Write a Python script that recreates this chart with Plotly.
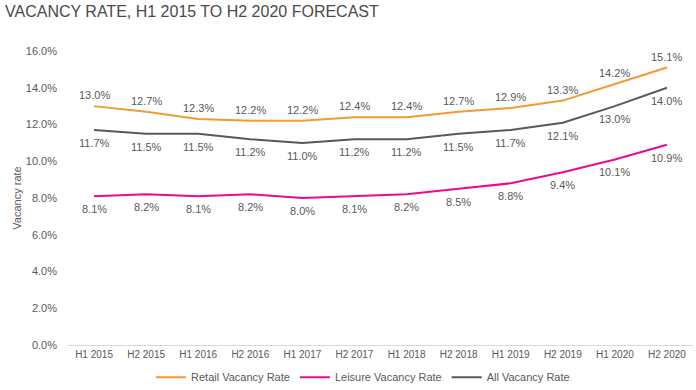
import plotly.graph_objects as go

categories = ["H1 2015", "H2 2015", "H1 2016", "H2 2016", "H1 2017", "H2 2017",
              "H1 2018", "H2 2018", "H1 2019", "H2 2019", "H1 2020", "H2 2020"]
retail = [13.0, 12.7, 12.3, 12.2, 12.2, 12.4, 12.4, 12.7, 12.9, 13.3, 14.2, 15.1]
leisure = [8.1, 8.2, 8.1, 8.2, 8.0, 8.1, 8.2, 8.5, 8.8, 9.4, 10.1, 10.9]
all_rate = [11.7, 11.5, 11.5, 11.2, 11.0, 11.2, 11.2, 11.5, 11.7, 12.1, 13.0, 14.0]
y_ticks = [0, 2, 4, 6, 8, 10, 12, 14, 16]

FONT = "Liberation Sans, Arial, sans-serif"
TXT = "#595959"

fig = go.Figure()
series = [
    ("Retail Vacancy Rate", retail, "#F39A30", 11),
    ("Leisure Vacancy Rate", leisure, "#EC0A8C", -13),
    ("All Vacancy Rate", all_rate, "#595959", -13),
]
annotations = []
for name, vals, col, shift in series:
    fig.add_trace(go.Scatter(
        x=categories, y=vals, name=name, mode="lines",
        line=dict(color=col, width=2),
    ))
    for c, v in zip(categories, vals):
        annotations.append(dict(
            x=c, y=v, xref="x", yref="y", text=f"{v:.1f}%", showarrow=False,
            yshift=shift, xanchor="center", yanchor="middle",
            font=dict(family=FONT, size=11, color=TXT)))

fig.update_layout(
    width=696, height=390,
    margin=dict(l=68, r=3, t=51, b=45, autoexpand=False),
    paper_bgcolor="white", plot_bgcolor="white",
    font=dict(family=FONT, size=11, color=TXT),
    title=dict(text="VACANCY RATE, H1 2015 TO H2 2020 FORECAST",
               xref="container", x=0, xanchor="left", pad=dict(l=5),
               yref="container", y=0.985, yanchor="top",
               font=dict(family=FONT, size=16, color="#4a4a4a")),
    annotations=annotations,
    showlegend=True,
    legend=dict(orientation="h", xref="container", x=0.217, xanchor="left",
                yref="container", y=0.033, yanchor="middle",
                font=dict(family=FONT, size=11, color=TXT), itemwidth=30,
                tracegroupgap=0),
    xaxis=dict(type="category", range=[-0.5, 11.5], showgrid=False,
               showline=True, linecolor="#D9D9D9", linewidth=1, ticks="",
               automargin=False, tickfont=dict(size=10, color=TXT)),
    yaxis=dict(range=[0, 16], tickvals=y_ticks,
               ticktext=[f"{t:.1f}%" for t in y_ticks], automargin=False,
               showgrid=False, zeroline=False, ticks="", ticklabelstandoff=10,
               title=dict(text="Vacancy rate", standoff=1,
                          font=dict(size=11, color=TXT)),
               tickfont=dict(size=11, color=TXT)),
)

fig.write_html("out.html", config={"displayModeBar": False},
               post_script="document.body.style.margin='0';document.body.style.padding='0';")
